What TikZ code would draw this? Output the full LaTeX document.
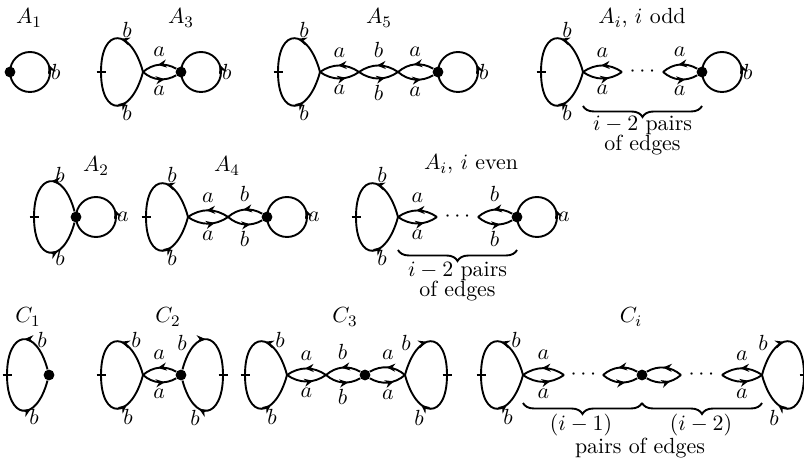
\documentclass[tikz,border=0pt]{standalone}
\usetikzlibrary{arrows.meta, decorations.markings, decorations.pathreplacing}
\tikzset{
  edge/.style      = {line width=0.95pt},
  dot/.style       = {circle, fill=black, inner sep=0pt, minimum size=5.4pt},
  headat/.style    = {decoration={markings,
                        mark=at position #1 with {\arrow{>}}},
                      postaction={decorate}},
  twoheads/.style  = {decoration={markings,
                        mark=at position 0.24 with {\arrow{>}},
                        mark=at position 0.8 with {\arrow{>}}},
                      postaction={decorate}},
  pairbrace/.style = {decorate, decoration={brace, mirror, amplitude=5.5pt},
                      line width=0.95pt},
  ttl/.style       = {anchor=base},
}
% b-loop to the left of a vertex, with its tick; #2, #3 = where the b's go
\newcommand{\bloopL}[3]{%
  \draw[edge, twoheads] (#1) to[out=105, in=90, looseness=2.8] ++(-42,0) coordinate (#1-l)
    to[out=-90, in=-105, looseness=2.8] (#1);
  \draw[edge] (#1-l) ++(-4.5,0) -- ++(9,0);
  \path (#1) ++(#2) node {$b$} (#1) ++(#3) node {$b$};}
% the same, mirrored
\newcommand{\bloopR}[3]{%
  \draw[edge, twoheads] (#1) to[out=75, in=90, looseness=2.8] ++(42,0) coordinate (#1-r)
    to[out=-90, in=-75, looseness=2.8] (#1);
  \draw[edge] (#1-r) ++(-4.5,0) -- ++(9,0);
  \path (#1) ++(#2) node {$b$} (#1) ++(#3) node {$b$};}
% pair of edges between two vertices
\newcommand{\lens}[4]{%
  \draw[edge, headat=0.54] (#2) to[bend right=35] node[above=0.3pt] {\ensuremath{#3}} (#1);
  \draw[edge, headat=0.66] (#1) to[bend right=35] node[below=-0.3pt] {\ensuremath{#4}} (#2);}
% round loop at a dot
\newcommand{\oloop}[2]{%
  \draw[edge, headat=0.56] (#1.center) arc[start angle=180, end angle=540, radius=20];
  \path (#1.center) ++(40,0) node[right, inner sep=0.3pt] {$#2$};}

\begin{document}
\begin{tikzpicture}[x=0.5pt, y=0.5pt, >={Stealth[length=4.4pt, width=4pt]},
    every node/.style={font=\fontsize{10.95}{13}\selectfont}]
  \useasboundingbox (0,0) rectangle (804,466);

  % ---- first row: A_1, A_3, A_5, A_i (i odd)
  \node[ttl] (tA1) at (29,442) {$A_1$};
  \node[dot] (a1d) at (10,394) {};
  \oloop{a1d}{b}

  \node[ttl] (tA3) at (181,442) {$A_3$};
  \coordinate (a3v) at (143,394);
  \node[dot] (a3d) at (181,394) {};
  \bloopL{a3v}{-16,42}{-16,-41}
  \lens{a3v}{a3d}{a}{a}
  \oloop{a3d}{b}

  \node[ttl] (tA5) at (379,442) {$A_5$};
  \coordinate (a5v) at (320,394);
  \coordinate (a5p) at (359,394);
  \coordinate (a5q) at (398,394);
  \node[dot] (a5d) at (438,394) {};
  \bloopL{a5v}{-16,42}{-16,-41}
  \lens{a5v}{a5p}{a}{a}
  \lens{a5p}{a5q}{b}{b}
  \lens{a5q}{a5d}{a}{a}
  \oloop{a5d}{b}

  \node[ttl] (tAo) at (642,442) {$A_i$, $i$ odd};
  \coordinate (aov) at (583,394);
  \coordinate (aop) at (622,394);
  \coordinate (aoq) at (663,394);
  \node[dot] (aod) at (702,394) {};
  \bloopL{aov}{-16,42}{-16,-41}
  \lens{aov}{aop}{a}{a}
  \node (aodots) at (642.5,394) {$\cdots$};
  \lens{aoq}{aod}{a}{a}
  \oloop{aod}{b}
  \draw[pairbrace] (583,360) -- (702,360);
  \node[ttl] (aot1) at (642.5,335) {$i-2$ pairs};
  \node[ttl] (aot2) at (642.5,315) {of edges};

  % ---- second row: A_2, A_4, A_i (i even)
  \node[ttl] (tA2) at (96,294) {$A_2$};
  \node[dot] (a2d) at (76,249) {};
  \bloopL{a2d}{-16,42}{-16,-41}
  \oloop{a2d}{a}

  \node[ttl] (tA4) at (227,294) {$A_4$};
  \coordinate (a4v) at (188,249);
  \coordinate (a4p) at (228,249);
  \node[dot] (a4d) at (267,249) {};
  \bloopL{a4v}{-16,42}{-16,-41}
  \lens{a4v}{a4p}{a}{a}
  \lens{a4p}{a4d}{b}{b}
  \oloop{a4d}{a}

  \node[ttl] (tAe) at (471,296) {$A_i$, $i$ even};
  \coordinate (aev) at (398,249);
  \coordinate (aep) at (437,249);
  \coordinate (aeq) at (478,249);
  \node[dot] (aed) at (517,249) {};
  \bloopL{aev}{-16,42}{-16,-41}
  \lens{aev}{aep}{a}{a}
  \node (aedots) at (457.5,249) {$\cdots$};
  \lens{aeq}{aed}{b}{b}
  \oloop{aed}{a}
  \draw[pairbrace] (398,216) -- (517,216);
  \node[ttl] (aet1) at (457.5,189) {$i-2$ pairs};
  \node[ttl] (aet2) at (457.5,169) {of edges};

  % ---- third row: C_1, C_2, C_3, C_i
  \node[ttl] (tC1) at (28,143) {$C_1$};
  \node[dot] (c1d) at (49,91) {};
  \bloopL{c1d}{-7,35}{-15,-42}

  \node[ttl] (tC2) at (168,143) {$C_2$};
  \coordinate (c2v) at (143,91);
  \node[dot] (c2d) at (181,91) {};
  \bloopL{c2v}{-7,35}{-15,-42}
  \lens{c2v}{c2d}{a}{a}
  \bloopR{c2d}{1,32}{14,-43}

  \node[ttl] (tC3) at (345,143) {$C_3$};
  \coordinate (c3v) at (287,91);
  \coordinate (c3p) at (326,91);
  \node[dot] (c3d) at (365,91) {};
  \coordinate (c3w) at (405,91);
  \bloopL{c3v}{-7,35}{-15,-42}
  \lens{c3v}{c3p}{a}{a}
  \lens{c3p}{c3d}{b}{b}
  \lens{c3d}{c3w}{a}{a}
  \bloopR{c3w}{1,32}{14,-43}

  \node[ttl] (tCi) at (631,143) {$C_i$};
  \coordinate (civ) at (523,91);
  \coordinate (cip) at (564,91);
  \coordinate (ciq) at (603,91);
  \node[dot] (cid) at (642,91) {};
  \coordinate (cir) at (681,91);
  \coordinate (cis) at (722,91);
  \coordinate (ciw) at (762,91);
  \bloopL{civ}{-7,35}{-15,-42}
  \lens{civ}{cip}{a}{a}
  \node (cidots1) at (583.5,91) {$\cdots$};
  \lens{ciq}{cid}{}{}
  \lens{cid}{cir}{}{}
  \node (cidots2) at (701.5,91) {$\cdots$};
  \lens{cis}{ciw}{a}{a}
  \bloopR{ciw}{1,32}{12,-43}
  \draw[pairbrace] (523,63) -- (642,63);
  \draw[pairbrace] (642,63) -- (762,63);
  \node[ttl] (cit1) at (581,35) {$(i-1)$};
  \node[ttl] (cit2) at (701,35) {$(i-2)$};
  \node[ttl] (cit3) at (640,12) {pairs of edges};
\end{tikzpicture}
\end{document}
